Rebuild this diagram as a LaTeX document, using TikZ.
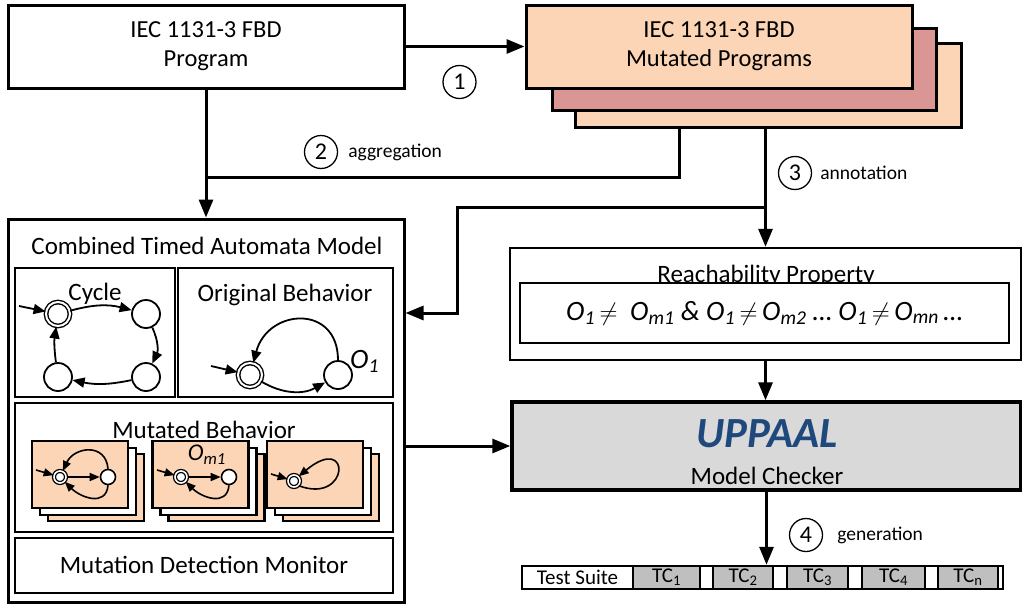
\documentclass[tikz,border=0pt]{standalone}
\usepackage{fontspec}
\setmainfont{Carlito}
\usetikzlibrary{positioning,arrows.meta,calc}
\definecolor{peach}{RGB}{251,213,181}
\definecolor{rose}{RGB}{217,150,148}
\definecolor{lgray}{RGB}{217,217,217}
\definecolor{tcgray}{RGB}{191,191,191}
\definecolor{upblue}{RGB}{31,73,125}
\tikzset{
  box/.style={draw,line width=3pt,rectangle,inner sep=0pt,align=center,
    font=\fontsize{24.5}{29}\selectfont},
  sub/.style={draw,line width=1.8pt,rectangle,inner sep=0pt},
  conn/.style={-{Triangle[length=18pt,width=14pt]},line width=3pt},
  wire/.style={line width=3pt},
  stepno/.style={circle,draw,line width=1.3pt,minimum size=33pt,inner sep=0pt,
    font=\fontsize{24}{24}\selectfont},
  steplbl/.style={font=\fontsize{19.5}{19.5}\selectfont,inner sep=0pt},
  ttl/.style={font=\fontsize{25}{25}\selectfont,inner sep=0pt},
  st/.style={circle,draw,line width=1.8pt,minimum size=28pt,inner sep=0pt,fill=white},
  ist/.style={st,double,double distance=2pt,line width=1.4pt,minimum size=24pt},
  tr/.style={-{Triangle[length=12pt,width=10pt]},line width=1.8pt},
  card/.style={draw,line width=2.8pt,minimum width=96pt,minimum height=67pt,inner sep=0pt},
  mst/.style={circle,draw,line width=1.6pt,minimum size=15pt,inner sep=0pt,fill=white},
  mist/.style={mst,double,double distance=1.6pt,line width=1.3pt,minimum size=12pt},
  mtr/.style={-{Triangle[length=10pt,width=8pt]},line width=1.6pt},
  tcbox/.style={draw,line width=2.4pt,fill=tcgray,minimum height=23pt,inner sep=0pt,
    font=\fontsize{21}{21}\selectfont},
  outlbl/.style={inner sep=0pt,font=\fontsize{28}{28}\selectfont\itshape},
}
\begin{document}
\begin{tikzpicture}[x=1pt,y=-1pt]
  \useasboundingbox (0,0) rectangle (1022,605);

  % programs
  \node[box,minimum width=396pt,minimum height=83pt] (prog) at (206,46.5)
    {IEC 1131-3 FBD\\Program};
  \node[box,fill=peach,minimum width=386pt,minimum height=84pt] (mutb) at (768,85.5) {};
  \node[box,fill=rose,minimum width=384pt,minimum height=82pt] (mutm) at (744,69) {};
  \node[box,fill=peach,minimum width=386pt,minimum height=83pt] (mutf) at (719,46.5)
    {IEC 1131-3 FBD\\Mutated Programs};

  % combined timed automata model
  \node[box,minimum width=396pt,minimum height=383pt] (comb) at (206,410.5) {};
  \node[ttl] (combt) at (207,246) {Combined Timed Automata Model};
  \node[sub,minimum width=160pt,minimum height=129pt] (cyc) at (95,332.5) {};
  \node[sub,minimum width=215pt,minimum height=129pt] (orig) at (285.5,332.5) {};
  \node[sub,minimum width=378pt,minimum height=129pt] (mbeh) at (204,467.5) {};
  \node[sub,minimum width=378pt,minimum height=55pt] (mon) at (204,565.5) {};
  \node[ttl] (cyct) at (95,294) {Cycle};
  \node[ttl] (origt) at (285,295) {Original Behavior};
  \node[ttl] (mbeht) at (204,430) {Mutated Behavior};
  \node[ttl] (mont) at (204,565) {Mutation Detection Monitor};

  % cycle automaton
  \node[ist] (c0) at (58,314) {};
  \node[st] (c1) at (146,314) {};
  \node[st] (c2) at (146,377) {};
  \node[st] (c3) at (58,377) {};
  \coordinate (c0in) at (19,306);
  \draw[tr] (c0in) -- (c0);
  \draw[tr] (c0) to[bend left=15] (c1);
  \draw[tr] (c1) to[bend left=25] (c2);
  \draw[tr] (c2) to[bend left=12] (c3);
  \draw[tr] (c3) to[bend left=8] (c0);

  % original behavior
  \node[ist] (o0) at (250,375) {};
  \node[st] (o1) at (338,375) {};
  \node[outlbl,anchor=west] (o1l) at (350,361) {O\textsubscript{1}};
  \coordinate (o0in) at (211,366);
  \draw[tr] (o0in) -- (o0);
  \draw[tr] (o0) to[bend right=30] (o1);
  \draw[tr] (o1.north) to[out=90,in=75,looseness=1.7] (o0);

  % mutated behavior cards
  \foreach \cx/\nm in {80/ka,200.5/kb,315/kc}{
    \node[card,fill=peach] (\nm3) at (\cx+16,487.5) {};
    \node[card,fill=white] (\nm2) at (\cx+8,481.5) {};
    \node[card,fill=peach] (\nm1) at (\cx,474.5) {};
  }
  \node[mist] (ka0) at (60,477) {};
  \node[mst] (kas) at (108,477) {};
  \coordinate (kain) at (36,470);
  \draw[mtr] (kain) -- (ka0);
  \draw[mtr] (ka0) -- (kas);
  \draw[mtr] (kas.north) to[out=95,in=65,looseness=1.5] (ka0);
  \draw[mtr] (kas.south) to[out=-95,in=-45,looseness=1.3] (ka0);

  \node[mist] (kb0) at (181,477) {};
  \node[mst] (kbs) at (229,477) {};
  \node[inner sep=0pt,font=\fontsize{24}{24}\selectfont\itshape] (kbl) at (207,455)
    {O\textsubscript{m1}};
  \coordinate (kbin) at (157,470);
  \draw[mtr] (kbin) -- (kb0);
  \draw[mtr] (kb0) -- (kbs);
  \draw[mtr] (kbs.south) to[out=-95,in=-45,looseness=1.3] (kb0);

  \node[mist] (kc0) at (294,481) {};
  \coordinate (kcin) at (271,474);
  \draw[mtr] (kcin) -- (kc0);
  \draw[mtr] (kc0.south east) .. controls (350,505) and (352,432) .. (kc0.north east);

  % reachability property
  \node[box,line width=2.4pt,minimum width=511pt,minimum height=112pt] (reach) at (765.5,304) {};
  \node[ttl,anchor=base] (reacht) at (766,282) {Reachability Property};
  \node[draw,fill=white,line width=1.6pt,minimum width=489pt,minimum height=60pt,
    inner sep=0pt,font=\fontsize{28}{28}\selectfont\itshape] (prop) at (764.5,313)
    {O\textsubscript{1}\,$\neq$\ \ O\textsubscript{m1} \& O\textsubscript{1}\,$\neq$\,O\textsubscript{m2}
     \ldots\ O\textsubscript{1}\,$\neq$\,O\textsubscript{mn}\,\ldots};

  % model checker
  \node[box,fill=lgray,line width=3.4pt,minimum width=509pt,minimum height=88pt] (upp) at (766.5,446) {};
  \node[inner sep=0pt,text=upblue,font=\fontsize{43}{43}\selectfont\bfseries\itshape] (uppt)
    at (767,434) {UPPAAL};
  \node[ttl] (uppc) at (767,476) {Model Checker};

  % test suite
  \node[draw,fill=white,line width=2.4pt,minimum width=481pt,minimum height=23pt,inner sep=0pt]
    (suite) at (762.5,577.5) {};
  \node[tcbox,fill=white,minimum width=111pt] (ts) at (577.5,577.5) {Test Suite};
  \foreach \cx/\w/\nm/\lab in {666.5/67/tca/1,743/60/tcb/2,817.5/61/tcc/3,893.5/63/tcd/4,968/60/tce/n}{
    \node[tcbox,minimum width=\w pt] (\nm) at (\cx,577.5) {TC\textsubscript{\lab}};
  }

  % connectors
  \draw[conn] (prog) -- (mutf);
  \node[stepno] (n1) at (459.5,82) {1};

  \coordinate (aggr) at (679,177);
  \draw[wire] (aggr |- mutb.south) -- (aggr) -- (aggr -| prog.south);
  \draw[conn] (prog) -- (comb);
  \node[stepno] (n2) at (321,152) {2};
  \node[steplbl,right=10pt of n2] (l2) {aggregation};

  \draw[conn] (reach.north |- mutb.south) -- (reach);
  \node[stepno] (n3) at (795,173) {3};
  \node[steplbl,right=8pt of n3] (l3) {annotation};
  \coordinate (fbtop) at (457,207);
  \coordinate (fbbot) at (457,313);
  \draw[conn] (fbtop -| reach.north) -- (fbtop) -- (fbbot) -- (fbbot -| comb.east);

  \draw[conn] (reach) -- (reach.south |- upp.north);
  \draw[conn] (comb.east |- upp.west) -- (upp);

  \draw[conn] (upp) -- (upp.south |- suite.north);
  \node[stepno] (n4) at (806,535) {4};
  \node[steplbl,right=14pt of n4] (l4) {generation};
\end{tikzpicture}
\end{document}
